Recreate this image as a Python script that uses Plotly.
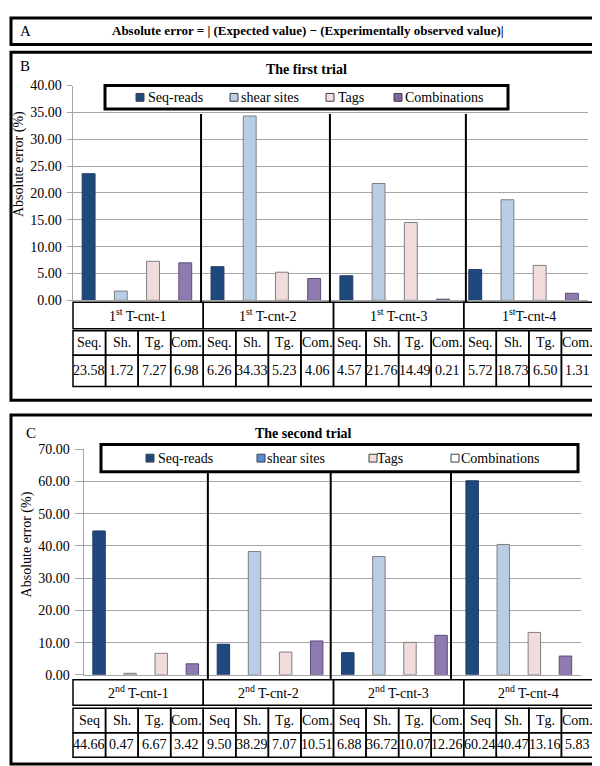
import plotly.graph_objects as go

W, H = 600, 766

# ---------------- data ----------------
series = ["Seq-reads", "shear sites", "Tags", "Combinations"]
abbr_first = ["Seq.", "Sh.", "Tg.", "Com."]
abbr_second = ["Seq", "Sh.", "Tg.", "Com."]
groups_first = ["1<sup>st</sup> T-cnt-1", "1<sup>st</sup> T-cnt-2", "1<sup>st</sup> T-cnt-3", "1<sup>st</sup>T-cnt-4"]
groups_second = ["2<sup>nd</sup> T-cnt-1", "2<sup>nd</sup> T-cnt-2", "2<sup>nd</sup> T-cnt-3", "2<sup>nd</sup> T-cnt-4"]

seq_first = [23.58, 6.26, 4.57, 5.72]
shear_first = [1.72, 34.33, 21.76, 18.73]
tags_first = [7.27, 5.23, 14.49, 6.50]
comb_first = [6.98, 4.06, 0.21, 1.31]

seq_second = [44.66, 9.50, 6.88, 60.24]
shear_second = [0.47, 38.29, 36.72, 40.47]
tags_second = [6.67, 7.07, 10.07, 13.16]
comb_second = [3.42, 10.51, 12.26, 5.83]

ticks_first = [0, 5, 10, 15, 20, 25, 30, 35, 40]
ticks_second = [0, 10, 20, 30, 40, 50, 60, 70]

title_a = "Absolute error = | (Expected value) \u2212 (Experimentally observed value)|"
title_b = "The first trial"
title_c = "The second trial"
ytitle = "Absolute error (%)"

# ---------------- styles ----------------
FONT = "Liberation Serif, Times New Roman, DejaVu Serif, serif"
bar_fill = ["#1F497D", "#B9CDE5", "#F2DCDB", "#8E7CB0"]
bar_line = ["#1F3A60", "#7F7F7F", "#7F7F7F", "#5F4B7F"]
legend_fill_b = ["#1F497D", "#B9CDE5", "#F2DCDB", "#8064A2"]
legend_fill_c = ["#1F497D", "#558ED5", "#F2DCDB", "#FFFFFF"]
grid = "#A6A6A6"


def X(px):
    return px / W


def Y(py):
    return 1 - py / H


fig = go.Figure()
shapes = []
annotations = []


def add_panel(ax, vals, groups, abbrs, ticks, dom_x, dom_y, ticklen, tickfs,
              seps, sep_top, legend_box, legend_items, legend_fill, table_rows):
    xname = "x" if ax == 1 else f"x{ax}"
    yname = "y" if ax == 1 else f"y{ax}"
    cats = [f"{g}|{a}" for g in range(4) for a in range(4)]
    for s in range(4):
        fig.add_trace(go.Bar(
            x=[f"{g}|{s}" for g in range(4)], y=vals[s], name=series[s],
            width=0.4, showlegend=False,
            marker=dict(color=bar_fill[s], line=dict(color=bar_line[s], width=1)),
            xaxis=xname, yaxis=yname))
    xa = dict(domain=[X(dom_x[0]), X(dom_x[1])], anchor=yname, type="category",
              categoryorder="array", categoryarray=cats, range=[-0.5, 15.5],
              showticklabels=False, showgrid=False, ticks="", showline=True,
              linecolor=grid, linewidth=1, fixedrange=True)
    ya = dict(domain=[Y(dom_y[0]), Y(dom_y[1])], anchor=xname,
              range=[0, ticks[-1]], tickvals=ticks,
              ticktext=[f"{t:.2f}" for t in ticks], showgrid=True, gridcolor=grid,
              gridwidth=1, showline=True, linecolor=grid, ticks="outside",
              ticklen=ticklen, tickcolor=grid, zeroline=False,
              tickfont=dict(family=FONT, size=tickfs, color="black"),
              ticklabelstandoff=2, fixedrange=True)
    key = "" if ax == 1 else str(ax)
    fig.update_layout(**{f"xaxis{key}": xa, f"yaxis{key}": ya})

    # separators between trial groups
    for sx in seps:
        shapes.append(dict(type="line", xref=xname, yref="paper", x0=sx, x1=sx,
                           y0=Y(table_rows[0][0]), y1=Y(sep_top),
                           line=dict(color="black", width=2), layer="above"))
    # legend box
    lx0, ly0, lx1, ly1 = legend_box
    shapes.append(dict(type="rect", xref="paper", yref="paper", x0=X(lx0), x1=X(lx1),
                       y0=Y(ly1), y1=Y(ly0), fillcolor="white",
                       line=dict(color="black", width=3), layer="above"))
    cy = (ly0 + ly1) / 2
    for s, (mx, tx) in enumerate(legend_items):
        shapes.append(dict(type="rect", xref="paper", yref="paper", x0=X(mx), x1=X(mx + 8),
                           y0=Y(cy + 4), y1=Y(cy - 4), fillcolor=legend_fill[s],
                           line=dict(color="#404040", width=1), layer="above"))
        annotations.append(dict(text=series[s], x=X(tx), y=Y(cy), xref="paper", yref="paper",
                                xanchor="left", yanchor="middle", showarrow=False,
                                font=dict(family=FONT, size=14, color="black")))
    # table below the chart
    tl, tr = 65, 586
    cw = (tr - tl) / 16
    r0, r1, r2 = table_rows
    for g in range(4):
        x0 = tl + g * 4 * cw
        x1 = tl + (g + 1) * 4 * cw
        shapes.append(dict(type="rect", xref="paper", yref="paper", x0=X(x0), x1=X(x1),
                           y0=Y(r0[1]), y1=Y(r0[0]), line=dict(color="black", width=1.5)))
        annotations.append(dict(text=groups[g], x=X((x0 + x1) / 2), y=Y((r0[0] + r0[1]) / 2),
                                xref="paper", yref="paper", showarrow=False,
                                xanchor="center", yanchor="middle",
                                font=dict(family=FONT, size=14, color="black")))
        for s in range(4):
            c0 = tl + (g * 4 + s) * cw
            c1 = c0 + cw
            for (ra, rb), txt in ((r1, abbrs[s]), (r2, f"{vals[s][g]:.2f}")):
                shapes.append(dict(type="rect", xref="paper", yref="paper", x0=X(c0), x1=X(c1),
                                   y0=Y(rb), y1=Y(ra), line=dict(color="black", width=1.5)))
                annotations.append(dict(text=txt, x=X((c0 + c1) / 2), y=Y((ra + rb) / 2),
                                        xref="paper", yref="paper", showarrow=False,
                                        xanchor="center", yanchor="middle",
                                        font=dict(family=FONT, size=14, color="black")))


add_panel(1, [seq_first, shear_first, tags_first, comb_first], groups_first, abbr_first,
          ticks_first, (64.5, 580), (291, 72), 5, 14,
          [3.49, 7.49, 11.71], 101, (97, 72, 500, 96),
          [(128, 138), (222, 231), (318, 328), (386, 395)], legend_fill_b,
          [(293, 320), (322, 347), (347, 379)])

add_panel(2, [seq_second, shear_second, tags_second, comb_second], groups_second, abbr_second,
          ticks_second, (75.5, 573), (673, 443), 8, 14,
          [3.5, 7.45, 11.32], 466, (93, 438, 570, 466),
          [(138, 148), (249, 257), (361, 367), (443, 451)], legend_fill_c,
          [(678, 704), (707, 732), (732, 757)])

# panel frames
for (x0, y0, x1, y1) in [(3, 3, 597, 30), (3, 38, 597, 393), (3, 408, 597, 764)]:
    shapes.append(dict(type="rect", xref="paper", yref="paper", x0=X(x0), x1=X(x1),
                       y0=Y(y1), y1=Y(y0), line=dict(color="black", width=3)))

# texts
def txt(t, x, y, size=14, bold=False, anchor="center", angle=0):
    annotations.append(dict(text=f"<b>{t}</b>" if bold else t, x=X(x), y=Y(y),
                            xref="paper", yref="paper", showarrow=False,
                            xanchor=anchor, yanchor="middle", textangle=angle,
                            font=dict(family=FONT, size=size, color="black")))

txt("A", 10, 16, 15, anchor="left")
txt(title_a, 300, 16, 13, bold=True)
txt("B", 10, 52, 15, anchor="left")
txt(title_b, 298, 56, 14, bold=True)
txt("C", 16, 426, 15, anchor="left")
txt(title_c, 295, 427, 14, bold=True)
txt(ytitle, 11, 152, 14, angle=-90)
txt(ytitle, 19, 540, 14, angle=-90)

fig.update_layout(width=W, height=H, margin=dict(l=0, r=0, t=0, b=0),
                  font=dict(family=FONT, color="black"),
                  paper_bgcolor="white", plot_bgcolor="white", barmode="overlay",
                  shapes=shapes, annotations=annotations, showlegend=False)

fig.write_html("out.html")
